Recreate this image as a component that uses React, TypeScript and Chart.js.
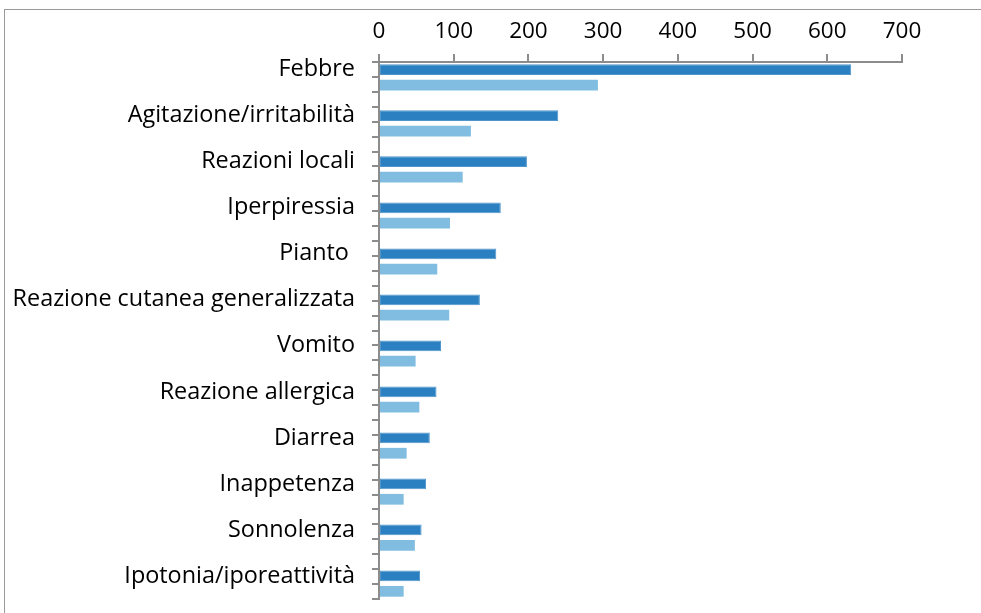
import React, { useEffect, useRef } from "react";
import { Chart, registerables } from "chart.js";

Chart.register(...registerables);

const categories = [
  "Febbre",
  "Agitazione/irritabilità",
  "Reazioni locali",
  "Iperpiressia",
  "Pianto ",
  "Reazione cutanea generalizzata",
  "Vomito",
  "Reazione allergica",
  "Diarrea",
  "Inappetenza",
  "Sonnolenza",
  "Ipotonia/iporeattività",
];

const seriesA = [632, 240, 198, 163, 157, 135, 83, 77, 68, 63, 57, 55];
const seriesB = [293, 123, 112, 95, 78, 94, 49, 54, 37, 33, 48, 33];
const seriesEmpty = categories.map(() => null);

const xMin = 0;
const xMax = 700;
const xStep = 100;

const FONT = "'Open Sans'";
const X_FONT_SIZE = 22.5;
const Y_FONT_SIZE = 23.4;
const AXIS_GREY = "#8c8c8c";

export default function App() {
  const ref = useRef<HTMLCanvasElement | null>(null);

  useEffect(() => {
    if (!ref.current) return;
    const chart = new Chart(ref.current, {
      type: "bar",
      data: {
        labels: categories,
        datasets: [
          {
            label: "gap",
            data: seriesEmpty as any,
            backgroundColor: "#ffffff",
            borderWidth: 0,
          },
          {
            label: "A",
            data: seriesA,
            backgroundColor: "#2a80c0",
            borderColor: "#4f95cc",
            borderWidth: 1,
            borderSkipped: false,
          },
          {
            label: "B",
            data: seriesB,
            backgroundColor: "#80bde0",
            borderWidth: 0,
          },
        ],
      },
      options: {
        indexAxis: "y",
        responsive: false,
        animation: false,
        layout: { padding: { left: 0, right: 79, top: 0, bottom: 14 } },
        plugins: {
          legend: { display: false },
          tooltip: { enabled: false },
        },
        datasets: {
          bar: { categoryPercentage: 1, barPercentage: 0.7 },
        },
        scales: {
          x: {
            type: "linear",
            position: "top",
            min: xMin,
            max: xMax,
            ticks: {
              stepSize: xStep,
              color: "#000",
              font: { family: FONT, size: X_FONT_SIZE },
              padding: 9,
            },
            grid: {
              drawOnChartArea: false,
              drawTicks: true,
              tickLength: 8,
              color: AXIS_GREY,
              lineWidth: 2,
            },
            border: { display: true, color: AXIS_GREY, width: 2 },
            afterFit: (s: any) => {
              s.height = 62;
              s.paddingLeft = 0;
              s.paddingRight = 0;
            },
          },
          y: {
            type: "category",
            position: "left",
            weight: 10,
            grid: { display: false, drawTicks: false },
            border: { display: false },
            ticks: {
              color: "#000",
              font: { family: FONT, size: Y_FONT_SIZE },
              padding: 17,
              autoSkip: false,
            },
            afterBuildTicks: (s: any) => {
              // axis starts one third into the first category
              s._startValue = -0.5 + 1 / 3;
              s._valueRange = categories.length - 1 / 3;
            },
            afterFit: (s: any) => {
              s.width = 372;
              s.paddingTop = 0;
              s.paddingBottom = 0;
            },
          },
          y2: {
            type: "linear",
            axis: "y",
            position: "left",
            weight: 0,
            min: 0,
            max: categories.length * 3 - 1,
            reverse: true,
            ticks: { display: false, stepSize: 1, maxTicksLimit: 60 },
            grid: {
              drawOnChartArea: false,
              drawTicks: true,
              tickLength: 7,
              color: AXIS_GREY,
              lineWidth: 2,
            },
            border: { display: true, color: AXIS_GREY, width: 2 },
            afterFit: (s: any) => {
              s.width = 7;
              s.paddingTop = 0;
              s.paddingBottom = 0;
            },
          },
        },
      },
    });
    return () => chart.destroy();
  }, []);

  return (
    <div
      style={{
        position: "fixed",
        left: 0,
        top: 0,
        width: 981,
        height: 613,
        overflow: "hidden",
        background: "#fff",
      }}
    >
      <div
        style={{
          position: "absolute",
          left: 4,
          top: 9,
          width: 977,
          height: 604,
          borderLeft: "1px solid #9a9a9a",
          borderTop: "1px solid #9a9a9a",
          boxSizing: "border-box",
        }}
      />
      <canvas
        ref={ref}
        width={981}
        height={613}
        style={{ position: "absolute", left: 0, top: 0, width: 981, height: 613 }}
      />
    </div>
  );
}
